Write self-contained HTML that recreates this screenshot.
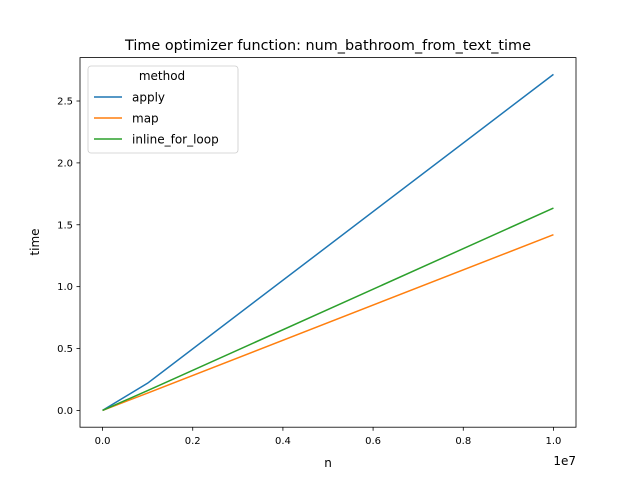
<!DOCTYPE html>
<html><head><meta charset="utf-8"><style>
body{margin:0;background:#fff;font-family:"DejaVu Sans","Liberation Sans",sans-serif;}
svg text{font-family:"DejaVu Sans","Liberation Sans",sans-serif;}
</style></head><body>
<svg id="chart" width="640" height="480" xmlns="http://www.w3.org/2000/svg">
<rect width="640" height="480" fill="#fff"/>
<text x="328" y="50" font-size="14.4" text-anchor="middle">Time optimizer function: num_bathroom_from_text_time</text>
<g id="plot"></g>
<rect x="80" y="57.6" width="496" height="369.6" fill="none" stroke="#000" stroke-width="0.8"/>
<text x="328" y="467" font-size="12" text-anchor="middle">n</text>
<text x="576" y="465" font-size="12" text-anchor="end">1e7</text>
<text x="0" y="0" font-size="12" text-anchor="middle" transform="translate(39,242) rotate(-90)">time</text>
<g>
<rect x="88" y="66" width="150" height="87" rx="3" fill="#fff" fill-opacity="0.8" stroke="#ccc" stroke-width="0.8"/>
<text x="162" y="80" font-size="12" text-anchor="middle">method</text>
<g id="legend-entries"></g>
</g>
</svg>
<script>
const xs = [0, 1000000, 10000000];
const seriesNames = ["apply", "map", "inline_for_loop"];
const applyValues = [0, 0.22, 2.715];
const mapValues = [0, 0.14, 1.42];
const inlineValues = [0, 0.16, 1.635];
const xTicks = [0, 0.2e7, 0.4e7, 0.6e7, 0.8e7, 1.0e7];
const xTickLabels = ["0.0", "0.2", "0.4", "0.6", "0.8", "1.0"];
const yTicks = [0, 0.5, 1.0, 1.5, 2.0, 2.5];
const yTickLabels = ["0.0", "0.5", "1.0", "1.5", "2.0", "2.5"];

const colors = ["#1f77b4", "#ff7f0e", "#2ca02c"];
const allSeries = [applyValues, mapValues, inlineValues];
const NS = "http://www.w3.org/2000/svg";
const L = 80, R = 576, T = 57.6, B = 427.2;
const xMin = Math.min(...xs), xMax = Math.max(...xs), xm = (xMax - xMin) * 0.05;
const allV = allSeries.flat();
const yMin0 = Math.min(...allV), yMax0 = Math.max(...allV), ym = (yMax0 - yMin0) * 0.05;
function xScale(v){ return L + (v - (xMin - xm)) / ((xMax + xm) - (xMin - xm)) * (R - L); }
function yScale(v){ return B - (v - (yMin0 - ym)) / ((yMax0 + ym) - (yMin0 - ym)) * (B - T); }
const plot = document.getElementById("plot");
function mk(tag, attrs){ const e = document.createElementNS(NS, tag); for (const k in attrs) e.setAttribute(k, attrs[k]); return e; }

xTicks.forEach((t, i) => {
  const x = xScale(t);
  const tk = mk("line", {x1:x, x2:x, y1:B, y2:B+3.5, stroke:"#000", "stroke-width":0.8});
  
  
  plot.appendChild(tk);
  const tx = mk("text", {x:x, y:B+17, "font-size":10, "text-anchor":"middle"});
  
  
  tx.textContent = xTickLabels[i];
  plot.appendChild(tx);
});
yTicks.forEach((t, i) => {
  const y = yScale(t);
  const tk = mk("line", {x1:L-3.5, x2:L, y1:y, y2:y, stroke:"#000", "stroke-width":0.8});
  
  
  plot.appendChild(tk);
  const tx = mk("text", {x:L-7, y:y+3.6, "font-size":10, "text-anchor":"end"});
  
  
  tx.textContent = yTickLabels[i];
  plot.appendChild(tx);
});
allSeries.forEach((vals, s) => {
  const pts = vals.map((v, i) => xScale(xs[i]) + "," + yScale(v)).join(" ");
  const pl = mk("polyline", {points:pts, fill:"none", stroke:colors[s], "stroke-width":1.5});
  
  
  plot.appendChild(pl);
});
const le = document.getElementById("legend-entries");
seriesNames.forEach((n, s) => {
  const y = 97 + s * 21;
  const ln = mk("line", {x1:94, x2:122, y1:y, y2:y, stroke:colors[s], "stroke-width":1.5});
  
  
  le.appendChild(ln);
  const tx = mk("text", {x:132, y:y+4.5, "font-size":12});
  
  
  tx.textContent = n;
  le.appendChild(tx);
});
</script>
</body></html>
